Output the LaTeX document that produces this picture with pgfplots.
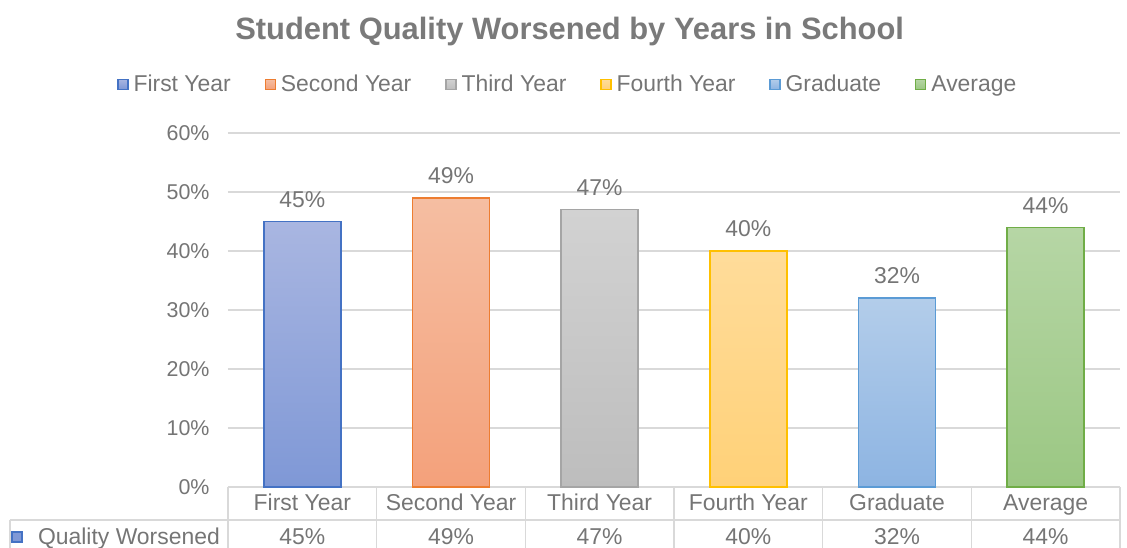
\documentclass[border=0pt]{standalone}
\usepackage{fontspec}
\setmainfont{Liberation Sans}
\usepackage{pgfplots}
\pgfplotsset{compat=1.18}

% text and rule colours
\definecolor{txt}{HTML}{757575}
\definecolor{ttl}{HTML}{7A7A7A}
\definecolor{rule}{HTML}{D9D9D9}
% bar edges and gradient fills (top / bottom)
\definecolor{eA}{HTML}{4472C4}\definecolor{tA}{HTML}{A9B6E1}\definecolor{bA}{HTML}{7F98D6}
\definecolor{eB}{HTML}{ED7D31}\definecolor{tB}{HTML}{F5BEA2}\definecolor{bB}{HTML}{F4A17B}
\definecolor{eC}{HTML}{A5A5A5}\definecolor{tC}{HTML}{D2D2D2}\definecolor{bC}{HTML}{BDBDBD}
\definecolor{eD}{HTML}{FFC000}\definecolor{tD}{HTML}{FFDC9A}\definecolor{bD}{HTML}{FFD178}
\definecolor{eE}{HTML}{5B9BD5}\definecolor{tE}{HTML}{B3CDEA}\definecolor{bE}{HTML}{8DB4E2}
\definecolor{eF}{HTML}{70AD47}\definecolor{tF}{HTML}{B6D6A5}\definecolor{bF}{HTML}{9BC783}

\newcommand{\lbl}{\fontsize{23}{27}\selectfont}
\newcommand{\tck}{\fontsize{21.5}{25}\selectfont}

\begin{document}
\begin{tikzpicture}
\path[use as bounding box] (-228bp,-61bp) rectangle (899bp,487bp);
\begin{axis}[
  at={(0,0)}, anchor=south west,
  scale only axis,
  width=892bp, height=354bp,
  xmin=-0.5, xmax=5.5,
  ymin=0, ymax=60,
  ybar, bar width=0.518,
  axis line style={draw=none},
  major tick length=0pt,
  ytick={0,10,...,60},
  yticklabel={\pgfmathprintnumber[assume math mode=true]{\tick}\%},
  yticklabel style={font=\tck, text=txt, xshift=-15bp},
  xtick={0,...,5},
  xticklabels={First Year, Second Year, Third Year, Fourth Year, Graduate, Average},
  xticklabel style={font=\lbl, text=txt, anchor=base, yshift=-23bp},
  ymajorgrids,
  grid style={rule, line width=1.5bp},
  nodes near coords={\pgfmathprintnumber[assume math mode=true]{\pgfplotspointmeta}\%},
  every node near coord/.append style={font=\lbl, text=txt, yshift=10bp},
  clip=false,
  title={Student Quality Worsened by Years in School},
  title style={font=\fontsize{31}{36}\selectfont\bfseries, text=ttl,
               at={(0.383,1.247)}, anchor=base},
  legend style={at={(0.381,1.138)}, anchor=center, draw=none, fill=none,
                font=\lbl, text=txt, legend columns=6,
                /tikz/every odd column/.style={column sep=3bp},
                /tikz/every even column/.style={column sep=32bp}},
  legend image code/.code={\draw[#1, line width=1.2bp] (0bp,-5bp) rectangle (10bp,5bp);},
]
\addplot[bar shift=0pt, draw=eA, line width=1.6bp, top color=tA, bottom color=bA] coordinates {(0,45)};
\addplot[bar shift=0pt, draw=eB, line width=1.6bp, top color=tB, bottom color=bB] coordinates {(1,49)};
\addplot[bar shift=0pt, draw=eC, line width=1.6bp, top color=tC, bottom color=bC] coordinates {(2,47)};
\addplot[bar shift=0pt, draw=eD, line width=1.6bp, top color=tD, bottom color=bD] coordinates {(3,40)};
\addplot[bar shift=0pt, draw=eE, line width=1.6bp, top color=tE, bottom color=bE] coordinates {(4,32)};
\addplot[bar shift=0pt, draw=eF, line width=1.6bp, top color=tF, bottom color=bF] coordinates {(5,44)};
\legend{First Year, Second Year, Third Year, Fourth Year, Graduate, Average}
\end{axis}

% data table below the plot area
\begin{scope}[rule, line width=1.5bp]
  \draw (-218bp,-33bp) -- (892bp,-33bp);
  \draw (-218bp,-33bp) -- (-218bp,-70bp);
  \foreach \k in {0,...,6} {
    \draw ({\k*892/6*1bp},0bp) -- ({\k*892/6*1bp},-70bp);
  }
\end{scope}
\draw[eA, line width=1.2bp, fill=bA] (-216bp,-55bp) rectangle (-206bp,-45bp);
\node[font=\lbl, text=txt, anchor=base east, inner sep=0pt] at (-8bp,-57bp) {Quality Worsened};
\foreach \v [count=\i from 0] in {45,49,47,40,32,44} {
  \node[font=\lbl, text=txt, anchor=base, inner sep=0pt] at ({(\i+0.5)*892/6*1bp},-57bp) {\v\%};
}
\end{tikzpicture}
\end{document}
